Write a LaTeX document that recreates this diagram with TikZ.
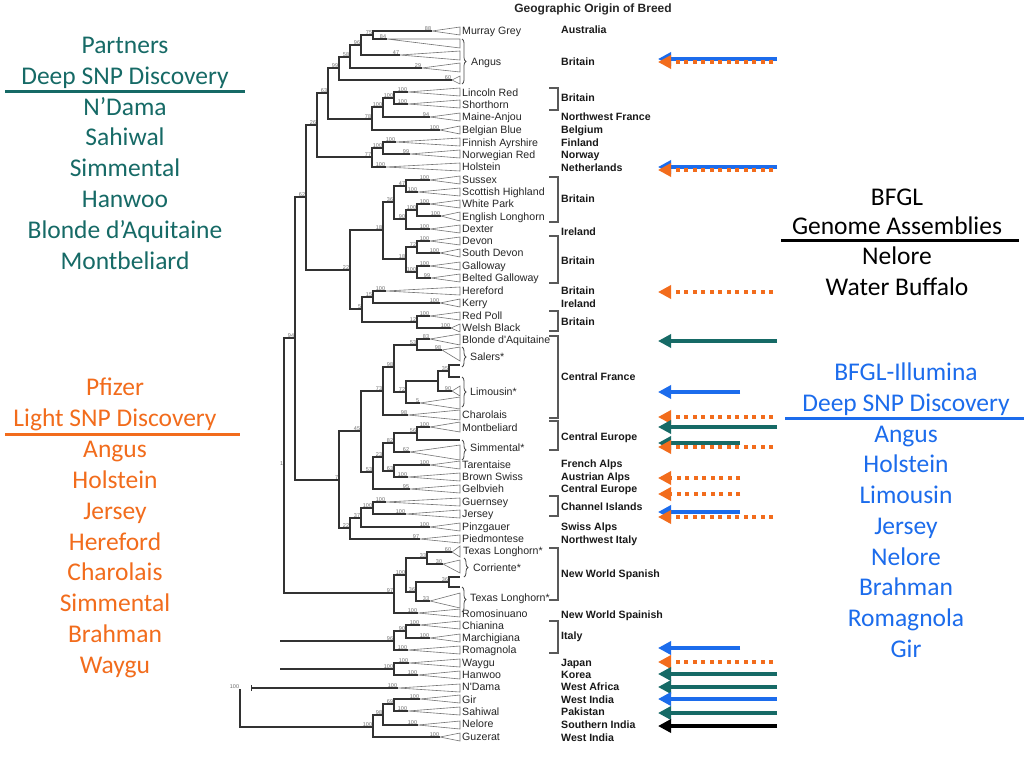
\documentclass[tikz,border=0pt]{standalone}
\usepackage{fontspec}
\setmainfont{Liberation Sans}
\newfontfamily\calib{Carlito}
\usetikzlibrary{arrows.meta,decorations.pathreplacing}
\definecolor{tealC}{RGB}{22,106,102}
\definecolor{orC}{RGB}{242,108,28}
\definecolor{blC}{RGB}{28,108,236}
\definecolor{trC}{RGB}{50,50,50}
\definecolor{bsC}{RGB}{110,110,110}
\newcommand\leafn[6]{\coordinate (#1) at (#2,#3); \draw[tri] (#1) -- (460,#4) -- (460,#5) -- cycle; \node[bs] at (#1) {#6};}
\newcommand\innode[4]{\coordinate (#1) at (#2,#3); \node[bs] at (#1) {#4};}
\newcommand\arrw[4]{\coordinate (#2s) at (#3,#4); \coordinate (#2e) at (658,#4); \draw[#1] (#2s) -- (#2e);}
\begin{document}
\begin{tikzpicture}[x=1pt,y=-1pt,
  br/.style={draw=trC, line width=1.3pt},
  tri/.style={draw=black!55, line width=0.6pt},
  bs/.style={font=\fontsize{5.5}{5.5}\selectfont, text=bsC, inner sep=0.3pt, anchor=south east, xshift=-0.4pt, yshift=0.3pt},
  lf/.style={font=\fontsize{10.6}{11}\selectfont, text=black!85, anchor=base west, inner sep=0pt, yshift=-3.8pt},
  rg/.style={font=\bfseries\fontsize{10.6}{11}\selectfont, text=black!90, anchor=base west, inner sep=0pt, yshift=-3.8pt},
  bkt/.style={draw=black!65, line width=1.1pt},
  brc/.style={draw=black!70, line width=0.8pt, decorate, decoration={brace, amplitude=4pt}},
  side/.style={font=\calib\fontsize{25.5}{25.5}\selectfont, anchor=base, inner sep=0pt, yshift=-8.5pt},
  tipA/.style={-{Triangle[length=13pt,width=13pt]}},
  tA/.style={tipA, draw=tealC, line width=4pt},
  bA/.style={tipA, draw=blC, line width=4pt},
  kA/.style={tipA, draw=black, line width=4pt},
  oA/.style={tipA, draw=orC, line width=4pt, dash pattern=on 4pt off 4.5pt}
]
\useasboundingbox (0,0) rectangle (1024,768);
\fill[white] (0,0) rectangle (1024,768);

% ---------- leaves (apex x, y, base top, base bottom, bootstrap)
\leafn{murray}{432}{31}{27}{35}{88}
\leafn{ang1}{387}{39}{39}{48}{84}
\leafn{ang2}{400}{55}{51}{60}{47}
\leafn{ang3}{422}{68}{63}{72}{29}
\leafn{ang4}{452}{80}{76}{84}{60}
\leafn{lincoln}{408}{92}{88}{96}{100}
\leafn{shorthorn}{408}{104}{100}{108}{100}
\leafn{maine}{430}{117}{113}{121}{94}
\leafn{belgian}{440}{130}{126}{134}{100}
\leafn{finnish}{396}{142}{138}{146}{100}
\leafn{norwegian}{410}{154}{150}{158}{99}
\leafn{holstein}{386}{167}{163}{171}{100}
\leafn{sussex}{430}{180}{176}{184}{100}
\leafn{scottish}{418}{192}{188}{196}{100}
\leafn{whitepark}{430}{204}{200}{208}{100}
\leafn{englishlh}{441}{216}{212}{221}{100}
\leafn{dexter}{430}{229}{225}{233}{100}
\leafn{devon}{430}{241}{237}{245}{100}
\leafn{southdevon}{440}{253}{249}{257}{100}
\leafn{galloway}{430}{266}{262}{270}{100}
\leafn{belted}{431}{278}{274}{282}{99}
\leafn{hereford}{386}{291}{287}{295}{100}
\leafn{kerry}{440}{303}{299}{307}{100}
\leafn{redpoll}{430}{316}{312}{320}{100}
\leafn{welsh}{451}{328}{324}{332}{100}
\leafn{blonde}{430}{339}{334}{345}{83}
\leafn{salers}{442}{350}{347}{361}{98}
\leafn{limA}{452}{391}{386}{396}{90}
\leafn{limB}{420}{403}{397}{409}{5}
\leafn{charolais}{408}{415}{410}{420}{98}
\leafn{montbel}{430}{427}{422}{432}{100}
\leafn{simm}{410}{452}{445}{460}{62}
\leafn{tarent}{430}{465}{461}{469}{100}
\leafn{brownsw}{408}{477}{473}{481}{100}
\leafn{gelb}{410}{489}{485}{493}{95}
\leafn{guern}{386}{502}{498}{506}{100}
\leafn{jersey}{406}{514}{510}{518}{100}
\leafn{pinz}{430}{527}{523}{531}{100}
\leafn{piedm}{420}{539}{535}{543}{97}
\leafn{tlA}{452}{552}{546}{557}{60}
\leafn{corr}{443}{564}{560}{573}{30}
\leafn{tlB}{430}{601}{593}{608}{33}
\leafn{romos}{418}{613}{609}{617}{100}
\leafn{chian}{420}{625}{621}{629}{100}
\leafn{march}{430}{638}{634}{642}{100}
\leafn{romag}{408}{650}{646}{654}{100}
\leafn{waygu}{409}{663}{659}{667}{100}
\leafn{hanwoo}{418}{675}{671}{679}{100}
\leafn{ndama}{398}{688}{684}{692}{100}
\leafn{gir}{420}{699}{695}{703}{100}
\leafn{sahiwal}{408}{711}{707}{715}{100}
\leafn{nelore}{418}{725}{721}{729}{100}
\leafn{guzerat}{440}{737}{733}{741}{100}
\coordinate (bA) at (460,365); \coordinate (bB) at (460,377);
\coordinate (bC) at (460,440);
\coordinate (bD) at (460,577); \coordinate (bE) at (460,587);

% ---------- internal nodes
\innode{a75}{373}{35}{75}
\innode{a96}{361}{45}{96}
\innode{a58}{350}{57}{58}
\innode{a99}{339}{68}{99}
\innode{n63}{328}{93}{63}
\innode{m78}{372}{119}{78}
\innode{m100b}{383}{107}{100}
\innode{m100a}{394}{98}{100}
\innode{n26}{317}{125}{26}
\innode{f77}{372}{157}{77}
\innode{f100}{383}{148}{100}
\innode{n62}{306}{197}{62}
\innode{n22}{350}{270}{22}
\innode{n18}{383}{230}{18}
\innode{s36}{394}{202}{36}
\innode{s47}{406}{186}{47}
\innode{s90}{406}{219}{90}
\innode{s100}{417}{210}{100}
\innode{d18}{406}{259}{18}
\innode{d72}{417}{247}{72}
\innode{d100}{417}{272}{100}
\innode{n5}{362}{309}{5}
\innode{h15}{373}{297}{15}
\innode{r12}{417}{322}{12}
\innode{n94}{295}{338}{94}
\innode{n7}{339}{480}{7}
\innode{n45}{361}{431}{45}
\innode{c73}{383}{391}{73}
\innode{c98}{394}{367}{98}
\innode{c53b}{417}{345}{53}
\innode{c72}{406}{392}{72}
\coordinate (c38) at (438,381);
\innode{c35}{449}{371}{35}
\innode{c53}{373}{472}{53}
\innode{c23}{383}{457}{23}
\innode{c82}{394}{443}{82}
\innode{c56}{417}{433}{56}
\innode{c63}{394}{471}{63}
\innode{g22}{350}{528}{22}
\innode{g37}{361}{518}{37}
\innode{g100}{373}{508}{100}
\innode{n1}{284}{466}{1}
\innode{w97}{394}{593}{97}
\innode{w100}{406}{575}{100}
\innode{w33}{427}{558}{33}
\innode{w36}{416}{592}{36}
\innode{w36b}{449}{582}{36}
\innode{i96}{394}{641}{96}
\innode{i90}{406}{631}{90}
\innode{j100}{394}{669}{100}
\innode{z100}{373}{727}{100}
\innode{z98}{383}{715}{98}
\innode{z69}{394}{704}{69}
\innode{root}{240}{689}{100}
\coordinate (iS) at (280,641);
\coordinate (jS) at (280,669);
\coordinate (nS) at (251,688);

% ---------- branches
\draw[br] (a75) |- (murray) (a75) |- (ang1)
  (a96) |- (a75) (a96) |- (ang2)
  (a58) |- (a96) (a58) |- (ang3)
  (a99) |- (a58) (a99) |- (ang4)
  (n63) |- (a99) (n63) |- (m78)
  (m78) |- (m100b) (m78) |- (belgian)
  (m100b) |- (m100a) (m100b) |- (maine)
  (m100a) |- (lincoln) (m100a) |- (shorthorn)
  (n26) |- (n63) (n26) |- (f77)
  (f77) |- (f100) (f77) |- (holstein)
  (f100) |- (finnish) (f100) |- (norwegian)
  (n62) |- (n26) (n62) |- (n22)
  (n22) |- (n18) (n22) |- (n5)
  (n18) |- (s36) (n18) |- (d18)
  (s36) |- (s47) (s36) |- (s90)
  (s47) |- (sussex) (s47) |- (scottish)
  (s90) |- (s100) (s90) |- (dexter)
  (s100) |- (whitepark) (s100) |- (englishlh)
  (d18) |- (d72) (d18) |- (d100)
  (d72) |- (devon) (d72) |- (southdevon)
  (d100) |- (galloway) (d100) |- (belted)
  (n5) |- (h15) (n5) |- (r12)
  (h15) |- (hereford) (h15) |- (kerry)
  (r12) |- (redpoll) (r12) |- (welsh)
  (n94) |- (n62) (n94) |- (n7)
  (n7) |- (n45) (n7) |- (g22)
  (n45) |- (c73) (n45) |- (c53)
  (c73) |- (c98) (c73) |- (charolais)
  (c98) |- (c53b) (c98) |- (c72)
  (c53b) |- (blonde) (c53b) |- (salers)
  (c72) |- (c38) (c72) |- (limB)
  (c38) |- (c35) (c38) |- (limA)
  (c35) |- (bA) (c35) |- (bB)
  (c53) |- (c23) (c53) |- (gelb)
  (c23) |- (c82) (c23) |- (c63)
  (c82) |- (c56) (c82) |- (simm)
  (c56) |- (montbel) (c56) |- (bC)
  (c63) |- (tarent) (c63) |- (brownsw)
  (g22) |- (g37) (g22) |- (piedm)
  (g37) |- (g100) (g37) |- (pinz)
  (g100) |- (guern) (g100) |- (jersey)
  (n1) |- (n94) (n1) |- (w97)
  (w97) |- (w100) (w97) |- (romos)
  (w100) |- (w33) (w100) |- (w36)
  (w33) |- (tlA) (w33) |- (corr)
  (w36) |- (w36b) (w36) |- (tlB)
  (w36b) |- (bD) (w36b) |- (bE)
  (iS) -- (i96)
  (i96) |- (i90) (i96) |- (romag)
  (i90) |- (chian) (i90) |- (march)
  (jS) -- (j100)
  (j100) |- (waygu) (j100) |- (hanwoo)
  (nS) -- (ndama)
  (root) |- (z100)
  (z100) |- (z98) (z100) |- (guzerat)
  (z98) |- (z69) (z98) |- (nelore)
  (z69) |- (gir) (z69) |- (sahiwal);
\draw[br, line width=0.8pt] (251,685) -- (251,691);

% ---------- leaf names
\node[lf] (tMurray) at (462,31) {Murray Grey};
\node[lf] (tLincoln) at (462,93) {Lincoln Red};
\node[lf] (tShort) at (462,105) {Shorthorn};
\node[lf] (tMaine) at (462,117) {Maine-Anjou};
\node[lf] (tBelg) at (462,130) {Belgian Blue};
\node[lf] (tFinn) at (462,143) {Finnish Ayrshire};
\node[lf] (tNorw) at (462,155) {Norwegian Red};
\node[lf] (tHolst) at (462,167) {Holstein};
\node[lf] (tSuss) at (462,180) {Sussex};
\node[lf] (tScot) at (462,192) {Scottish Highland};
\node[lf] (tWhite) at (462,204) {White Park};
\node[lf] (tEngl) at (462,217) {English Longhorn};
\node[lf] (tDext) at (462,229) {Dexter};
\node[lf] (tDevon) at (462,241) {Devon};
\node[lf] (tSDev) at (462,253) {South Devon};
\node[lf] (tGall) at (462,266) {Galloway};
\node[lf] (tBelt) at (462,278) {Belted Galloway};
\node[lf] (tHere) at (462,291) {Hereford};
\node[lf] (tKerry) at (462,303) {Kerry};
\node[lf] (tRed) at (462,316) {Red Poll};
\node[lf] (tWelsh) at (462,328) {Welsh Black};
\node[lf] (tBlonde) at (462,340) {Blonde d\textquotesingle Aquitaine};
\node[lf] (tChar) at (462,415) {Charolais};
\node[lf] (tMont) at (462,428) {Montbeliard};
\node[lf] (tTar) at (462,465) {Tarentaise};
\node[lf] (tBrown) at (462,477) {Brown Swiss};
\node[lf] (tGelb) at (462,489) {Gelbvieh};
\node[lf] (tGuern) at (462,502) {Guernsey};
\node[lf] (tJers) at (462,514) {Jersey};
\node[lf] (tPinz) at (462,527) {Pinzgauer};
\node[lf] (tPied) at (462,539) {Piedmontese};
\node[lf] (tTL1) at (463,551) {Texas Longhorn*};
\node[lf] (tRomo) at (462,614) {Romosinuano};
\node[lf] (tChia) at (462,626) {Chianina};
\node[lf] (tMarc) at (462,638) {Marchigiana};
\node[lf] (tRoma) at (462,650) {Romagnola};
\node[lf] (tWay) at (462,663) {Waygu};
\node[lf] (tHan) at (462,675) {Hanwoo};
\node[lf] (tNDa) at (462,687) {N\textquotesingle Dama};
\node[lf] (tGir) at (462,700) {Gir};
\node[lf] (tSah) at (462,712) {Sahiwal};
\node[lf] (tNel) at (462,724) {Nelore};
\node[lf] (tGuz) at (462,737) {Guzerat};

% braces
\draw[brc] (462,39) -- (462,84);
\draw[brc] (462,347) -- (462,367);
\draw[brc] (462,377) -- (462,407);
\draw[brc] (462,440) -- (462,460);
\draw[brc] (464,558) -- (464,577);
\draw[brc] (462,587) -- (462,612);
\node[lf] (tAngus) at (471,62) {Angus};
\node[lf] (tSalers) at (470,357) {Salers*};
\node[lf] (tLimo) at (470,392) {Limousin*};
\node[lf] (tSimm) at (470,448) {Simmental*};
\node[lf] (tCorr) at (473,568) {Corriente*};
\node[lf] (tTL2) at (470,598) {Texas Longhorn*};

% ---------- geographic origin
\node[font=\bfseries\fontsize{12}{12}\selectfont, text=black!85, inner sep=0pt] (title) at (593,9) {Geographic Origin of Breed};
\foreach \t/\yy in {Australia/30, Britain/62, Britain/98, Northwest France/117, Belgium/130, Finland/143, Norway/155, Netherlands/168, Britain/199, Ireland/232, Britain/261, Britain/291, Ireland/304, Britain/322, Central France/377, Central Europe/437, French Alps/464, Austrian Alps/477, Central Europe/489, Channel Islands/507, Swiss Alps/527, Northwest Italy/540, New World Spanish/574, New World Spainish/615, Italy/636, Japan/663, Korea/675, West Africa/687, West India/700, Pakistan/712, Southern India/725, West India/738}
  \node[rg] at (561,\yy) {\t};
\foreach \ya/\yb in {88/110, 177/222, 236/283, 311/331, 336/418, 421/450, 496/516, 548/600, 621/653}
  \draw[bkt] (549,\ya) -- (558,\ya) -- (558,\yb) -- (549,\yb);

% ---------- arrows
\arrw{bA}{r1}{777}{59}
\arrw{oA}{r2}{773}{62}
\arrw{bA}{r3}{777}{167}
\arrw{oA}{r4}{773}{170}
\arrw{oA}{r5}{773}{292}
\arrw{tA}{r6}{777}{341}
\arrw{bA}{r7}{740}{392}
\arrw{oA}{r8}{773}{417}
\arrw{tA}{r9}{777}{427}
\arrw{tA}{r10}{740}{443}
\arrw{oA}{r11}{773}{447}
\arrw{oA}{r12}{740}{478}
\arrw{oA}{r13}{740}{494}
\arrw{bA}{r14}{740}{512}
\arrw{oA}{r15}{773}{517}
\arrw{bA}{r16}{740}{648}
\arrw{oA}{r17}{773}{662}
\arrw{tA}{r18}{777}{674}
\arrw{tA}{r19}{777}{687}
\arrw{bA}{r20}{777}{699}
\arrw{tA}{r21}{777}{713}
\arrw{kA}{r22}{777}{726}

% ---------- side texts
\begin{scope}[every node/.style={side, text=tealC}]
\node (p1) at (125,45) {Partners};
\node (p2) at (125,76) {Deep SNP Discovery};
\node (p3) at (125,107) {N’Dama};
\node (p4) at (125,137) {Sahiwal};
\node (p5) at (125,168) {Simmental};
\node (p6) at (125,199) {Hanwoo};
\node (p7) at (125,230) {Blonde d’Aquitaine};
\node (p8) at (125,261) {Montbeliard};
\end{scope}
\draw[tealC, line width=3pt] (5,91) -- (245,91);

\begin{scope}[every node/.style={side, text=orC}]
\node (q1) at (115,387) {Pfizer};
\node (q2) at (115,418) {Light SNP Discovery};
\node (q3) at (115,449) {Angus};
\node (q4) at (115,480) {Holstein};
\node (q5) at (115,511) {Jersey};
\node (q6) at (115,542) {Hereford};
\node (q7) at (115,572) {Charolais};
\node (q8) at (115,603) {Simmental};
\node (q9) at (115,634) {Brahman};
\node (q10) at (115,665) {Waygu};
\end{scope}
\draw[orC, line width=3pt] (5,434) -- (240,434);

\begin{scope}[every node/.style={side, text=black}]
\node (k1) at (897,197) {BFGL};
\node (k2) at (897,226) {Genome Assemblies};
\node (k3) at (897,256) {Nelore};
\node (k4) at (897,287) {Water Buffalo};
\end{scope}
\draw[black, line width=3pt] (781,240) -- (1019,240);

\begin{scope}[every node/.style={side, text=blC}]
\node (u1) at (906,372) {BFGL-Illumina};
\node (u2) at (906,403) {Deep SNP Discovery};
\node (u3) at (906,434) {Angus};
\node (u4) at (906,464) {Holstein};
\node (u5) at (906,495) {Limousin};
\node (u6) at (906,526) {Jersey};
\node (u7) at (906,557) {Nelore};
\node (u8) at (906,587) {Brahman};
\node (u9) at (906,618) {Romagnola};
\node (u10) at (906,649) {Gir};
\end{scope}
\draw[blC, line width=3pt] (785,418) -- (1024,418);
\end{tikzpicture}
\end{document}
